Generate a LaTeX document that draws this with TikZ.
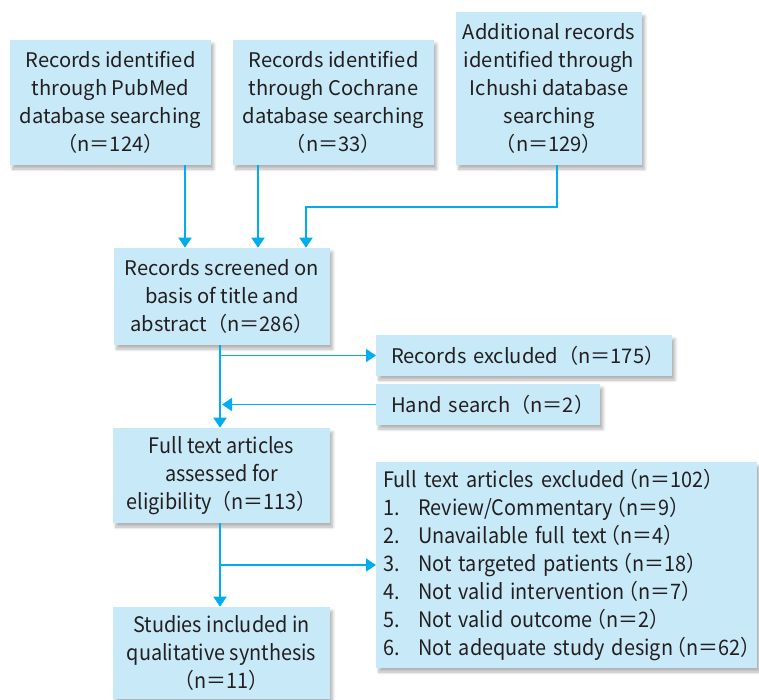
\documentclass[tikz,border=0pt]{standalone}
\usepackage{fontspec}
\setmainfont{Noto Sans CJK JP}
\newfontfamily\narrowfont[FakeStretch=0.93]{Noto Sans CJK JP}
\usetikzlibrary{arrows.meta,shadows.blur}
\definecolor{boxfill}{RGB}{200,233,248}
\definecolor{arrowcol}{RGB}{0,174,239}
\definecolor{textcol}{RGB}{35,31,32}
\newcommand{\nn}[1]{\kern-0.3em（n＝#1）}
\newcommand{\exitem}[2]{\mbox{\makebox[26.25pt][l]{#1}#2}}
\tikzset{
  box/.style={rectangle, fill=boxfill, text=textcol, inner sep=0pt, align=center,
    font=\fontsize{15.1}{21}\selectfont,
    blur shadow={shadow xshift=2pt, shadow yshift=-3pt, shadow opacity=30, shadow blur steps=6}},
  narrowbox/.style={box, font=\narrowfont\fontsize{16}{21}\selectfont},
  arr/.style={draw=arrowcol, line width=1.1pt, -{Triangle[width=9.75pt,length=7.5pt]}, fill=none}
}
\begin{document}
\begin{tikzpicture}[x=0.75pt,y=0.75pt,yscale=-1,xscale=1]
\useasboundingbox (0,0) rectangle (759,699);

% Source boxes
\node [box, minimum width=150.75pt, minimum height=93.75pt] (pubmed) at (110.5,102.5)
  {Records identified\\through PubMed\\database searching\\（n＝124）};
\node [box, minimum width=150.75pt, minimum height=93.75pt] (cochrane) at (333.5,102.5)
  {Records identified\\through Cochrane\\database searching\\（n＝33）};
\node [box, minimum width=139.5pt, minimum height=114.75pt] (ichushi) at (549,88.5)
  {Additional records\\identified through\\Ichushi database\\searching\\（n＝129）};

% Screening
\node [box, minimum width=162pt, minimum height=72.75pt] (screened) at (222,296.5)
  {Records screened on\\basis of title and\\abstract（n＝286）};
\node [box, anchor=west, align=left, inner xsep=11.25pt, text width=199.5pt, minimum height=30.75pt] (excluded) at (376,355.5)
  {\mbox{Records excluded（n＝175）}};
\node [box, anchor=west, align=left, inner xsep=11.25pt, text width=145.5pt, minimum height=30.75pt] (hand) at (376,404.5)
  {\mbox{Hand search（n＝2）}};

% Eligibility
\node [narrowbox, minimum width=162.75pt, minimum height=71.25pt] (fulltext) at (221.5,475.5)
  {Full text articles\\assessed for\\eligibility（n＝113）};
\node [narrowbox, anchor=west, align=left, inner xsep=5.25pt, text width=275.25pt, minimum height=154.5pt] (exclist) at (376,565)
  {\mbox{Full text articles excluded\nn{102}}\\
   \exitem{1.}{Review/Commentary\nn{9}}\\
   \exitem{2.}{Unavailable full text\nn{4}}\\
   \exitem{3.}{Not targeted patients\nn{18}}\\
   \exitem{4.}{Not valid intervention\nn{7}}\\
   \exitem{5.}{Not valid outcome\nn{2}}\\
   \exitem{6.}{Not adequate study design\nn{62}}};

% Included
\node [narrowbox, minimum width=162.75pt, minimum height=69pt] (studies) at (221.5,653)
  {Studies included in\\qualitative synthesis\\（n＝11）};

% Connectors
\coordinate (xa) at (185,0);
\coordinate (xb) at (258,0);
\coordinate (xc) at (306,0);
\coordinate (xi) at (557,0);
\coordinate (xm) at (220,0);
\coordinate (bend) at (557,207);

\draw [arr] (xa |- pubmed.south) -- (xa |- screened.north);
\draw [arr] (xb |- cochrane.south) -- (xb |- screened.north);
\draw [arr] (xi |- ichushi.south) -- (bend) -| (xc |- screened.north);
\draw [arr] (xm |- screened.south) -- (xm |- fulltext.north);
\draw [arr] (xm |- excluded.west) -- (excluded.west);
\draw [arr] (hand.west) -- ([xshift=1.5pt]xm |- hand.west);
\draw [arr] (xm |- fulltext.south) -- (xm |- studies.north);
\draw [arr] (xm |- exclist.west) -- (exclist.west);
\end{tikzpicture}
\end{document}
